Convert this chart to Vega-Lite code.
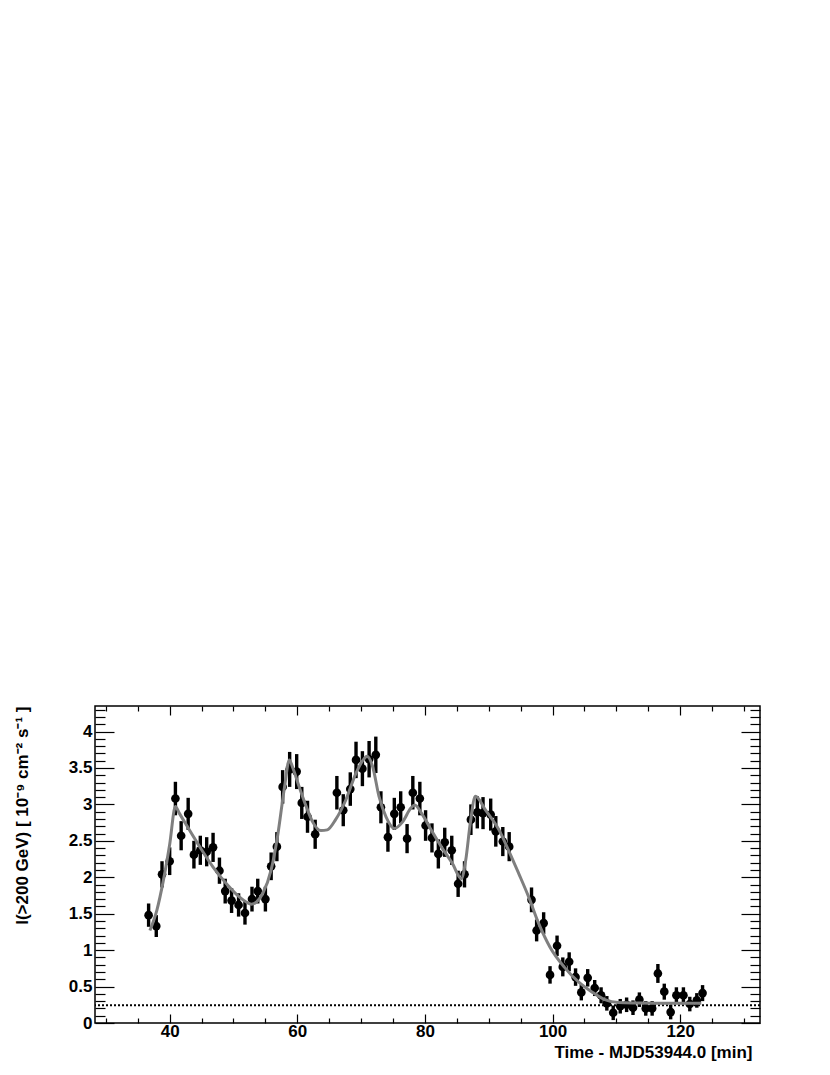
{
  "$schema": "https://vega.github.io/schema/vega-lite/v6.json",
  "width": 665,
  "height": 317,
  "autosize": "none",
  "padding": {"left": 95, "top": 706, "right": 70, "bottom": 52},
  "background": "white",
  "config": {
    "view": {"stroke": "black", "strokeWidth": 1.5},
    "font": "Liberation Sans",
    "axis": {
      "grid": false,
      "domain": false,
      "tickColor": "black",
      "tickWidth": 1.2,
      "labelFont": "Liberation Sans",
      "labelFontWeight": "bold",
      "labelFontSize": 17,
      "labelColor": "black",
      "titleFont": "Liberation Sans",
      "titleFontWeight": "bold",
      "titleFontSize": 17,
      "titleColor": "black"
    }
  },
  "datasets": {
    "points": [
      {"t": 36.7, "v": 1.48, "e": 0.16}, {"t": 37.9, "v": 1.33, "e": 0.15}, {"t": 38.8, "v": 2.04, "e": 0.18},
      {"t": 40.0, "v": 2.22, "e": 0.19}, {"t": 40.9, "v": 3.08, "e": 0.23}, {"t": 41.8, "v": 2.57, "e": 0.2},
      {"t": 42.9, "v": 2.87, "e": 0.22}, {"t": 43.8, "v": 2.31, "e": 0.19}, {"t": 44.8, "v": 2.37, "e": 0.2},
      {"t": 45.8, "v": 2.35, "e": 0.2}, {"t": 46.8, "v": 2.41, "e": 0.2}, {"t": 47.8, "v": 2.09, "e": 0.18},
      {"t": 48.7, "v": 1.81, "e": 0.17}, {"t": 49.7, "v": 1.68, "e": 0.17}, {"t": 50.8, "v": 1.62, "e": 0.16},
      {"t": 51.8, "v": 1.51, "e": 0.16}, {"t": 52.9, "v": 1.70, "e": 0.17}, {"t": 53.8, "v": 1.81, "e": 0.17},
      {"t": 55.0, "v": 1.70, "e": 0.17}, {"t": 55.9, "v": 2.15, "e": 0.19}, {"t": 56.8, "v": 2.42, "e": 0.2},
      {"t": 57.7, "v": 3.24, "e": 0.23}, {"t": 58.8, "v": 3.48, "e": 0.24}, {"t": 59.9, "v": 3.45, "e": 0.24},
      {"t": 60.7, "v": 3.02, "e": 0.22}, {"t": 61.6, "v": 2.83, "e": 0.22}, {"t": 62.8, "v": 2.59, "e": 0.2},
      {"t": 66.2, "v": 3.16, "e": 0.23}, {"t": 67.2, "v": 2.92, "e": 0.22}, {"t": 68.3, "v": 3.21, "e": 0.23},
      {"t": 69.2, "v": 3.61, "e": 0.25}, {"t": 70.2, "v": 3.49, "e": 0.24}, {"t": 71.25, "v": 3.62, "e": 0.25},
      {"t": 72.3, "v": 3.68, "e": 0.25}, {"t": 73.1, "v": 2.96, "e": 0.22}, {"t": 74.2, "v": 2.55, "e": 0.2},
      {"t": 75.2, "v": 2.87, "e": 0.22}, {"t": 76.2, "v": 2.96, "e": 0.22}, {"t": 77.2, "v": 2.53, "e": 0.2},
      {"t": 78.1, "v": 3.16, "e": 0.23}, {"t": 79.2, "v": 3.08, "e": 0.23}, {"t": 80.1, "v": 2.71, "e": 0.21},
      {"t": 81.1, "v": 2.54, "e": 0.2}, {"t": 82.1, "v": 2.32, "e": 0.2}, {"t": 83.1, "v": 2.48, "e": 0.2},
      {"t": 84.2, "v": 2.37, "e": 0.2}, {"t": 85.2, "v": 1.91, "e": 0.18}, {"t": 86.2, "v": 2.04, "e": 0.18},
      {"t": 87.2, "v": 2.79, "e": 0.21}, {"t": 88.2, "v": 2.89, "e": 0.22}, {"t": 89.1, "v": 2.88, "e": 0.22},
      {"t": 90.3, "v": 2.86, "e": 0.22}, {"t": 91.1, "v": 2.63, "e": 0.21}, {"t": 92.2, "v": 2.49, "e": 0.2},
      {"t": 93.2, "v": 2.42, "e": 0.2}, {"t": 96.7, "v": 1.69, "e": 0.17}, {"t": 97.5, "v": 1.27, "e": 0.15},
      {"t": 98.6, "v": 1.37, "e": 0.15}, {"t": 99.6, "v": 0.66, "e": 0.12}, {"t": 100.7, "v": 1.06, "e": 0.14},
      {"t": 101.6, "v": 0.77, "e": 0.13}, {"t": 102.6, "v": 0.84, "e": 0.13}, {"t": 103.6, "v": 0.63, "e": 0.12},
      {"t": 104.5, "v": 0.42, "e": 0.11}, {"t": 105.5, "v": 0.62, "e": 0.12}, {"t": 106.6, "v": 0.48, "e": 0.11},
      {"t": 107.6, "v": 0.38, "e": 0.11}, {"t": 108.5, "v": 0.27, "e": 0.1}, {"t": 109.5, "v": 0.14, "e": 0.1},
      {"t": 110.6, "v": 0.23, "e": 0.1}, {"t": 111.6, "v": 0.25, "e": 0.1}, {"t": 112.6, "v": 0.21, "e": 0.1},
      {"t": 113.6, "v": 0.32, "e": 0.1}, {"t": 114.6, "v": 0.20, "e": 0.1}, {"t": 115.6, "v": 0.20, "e": 0.1},
      {"t": 116.5, "v": 0.68, "e": 0.13}, {"t": 117.5, "v": 0.43, "e": 0.11}, {"t": 118.5, "v": 0.15, "e": 0.1},
      {"t": 119.4, "v": 0.38, "e": 0.11}, {"t": 120.5, "v": 0.38, "e": 0.11}, {"t": 121.5, "v": 0.26, "e": 0.1},
      {"t": 122.6, "v": 0.31, "e": 0.1}, {"t": 123.5, "v": 0.41, "e": 0.11}
    ],
    "fit": [
      {"t": 36.9, "f": 1.27}, {"t": 38.0, "f": 1.55}, {"t": 39.0, "f": 1.95}, {"t": 40.0, "f": 2.45},
      {"t": 40.9, "f": 2.97}, {"t": 41.5, "f": 2.88}, {"t": 42.6, "f": 2.72}, {"t": 44.7, "f": 2.42},
      {"t": 46.8, "f": 2.14}, {"t": 48.9, "f": 1.91}, {"t": 50.9, "f": 1.73}, {"t": 52.0, "f": 1.66},
      {"t": 52.8, "f": 1.63}, {"t": 53.6, "f": 1.66}, {"t": 54.6, "f": 1.78}, {"t": 55.9, "f": 2.10},
      {"t": 56.9, "f": 2.56}, {"t": 58.0, "f": 3.24}, {"t": 58.75, "f": 3.61}, {"t": 59.3, "f": 3.50},
      {"t": 60.3, "f": 3.24}, {"t": 61.4, "f": 2.97}, {"t": 62.4, "f": 2.76}, {"t": 63.7, "f": 2.64},
      {"t": 64.7, "f": 2.65}, {"t": 66.0, "f": 2.79}, {"t": 67.6, "f": 3.06}, {"t": 69.2, "f": 3.43},
      {"t": 70.5, "f": 3.63}, {"t": 70.9, "f": 3.66}, {"t": 71.8, "f": 3.52}, {"t": 72.8, "f": 3.11},
      {"t": 73.9, "f": 2.83}, {"t": 75.2, "f": 2.67}, {"t": 76.5, "f": 2.76}, {"t": 77.8, "f": 2.95},
      {"t": 78.4, "f": 2.99}, {"t": 79.6, "f": 2.86}, {"t": 81.1, "f": 2.63}, {"t": 82.7, "f": 2.40},
      {"t": 84.3, "f": 2.19}, {"t": 85.7, "f": 1.98}, {"t": 86.4, "f": 2.24}, {"t": 87.1, "f": 2.74},
      {"t": 87.9, "f": 3.11}, {"t": 89.5, "f": 2.92}, {"t": 91.6, "f": 2.65}, {"t": 93.1, "f": 2.37},
      {"t": 94.7, "f": 2.05}, {"t": 96.25, "f": 1.73}, {"t": 97.8, "f": 1.37}, {"t": 99.6, "f": 1.04},
      {"t": 101.8, "f": 0.77}, {"t": 104.1, "f": 0.56}, {"t": 106.1, "f": 0.43}, {"t": 108.2, "f": 0.32},
      {"t": 110.3, "f": 0.28}, {"t": 113.4, "f": 0.275}, {"t": 118.6, "f": 0.27}, {"t": 123.3, "f": 0.27}
    ],
    "base": [{"b": 0.243}]
  },
  "resolve": {"axis": {"x": "independent", "y": "independent"}},
  "layer": [
    {
      "data": {"name": "points"},
      "mark": {"type": "errorbar", "ticks": false, "thickness": 3.4, "color": "black"},
      "encoding": {
        "x": {
          "field": "t", "type": "quantitative",
          "scale": {"domain": [28.3, 132.5], "nice": false, "zero": false},
          "axis": {
            "orient": "bottom",
            "title": "Time - MJD53944.0 [min]",
            "titleAnchor": "end",
            "titleAlign": "right",
            "titleX": 657,
            "titlePadding": 1,
            "values": [30, 35, 40, 45, 50, 55, 60, 65, 70, 75, 80, 85, 90, 95, 100, 105, 110, 115, 120, 125, 130],
            "labelExpr": "datum.value % 20 === 0 ? datum.label : ''",
            "tickSize": {"condition": {"test": "datum.value % 20 === 0", "value": -9}, "value": -5},
            "labelPadding": 9,
            "labelOverlap": false
          }
        },
        "y": {
          "field": "v", "type": "quantitative",
          "scale": {"domain": [0, 4.35], "nice": false, "zero": false},
          "axis": {
            "orient": "left",
            "title": "I(>200 GeV) [ 10⁻⁹ cm⁻² s⁻¹ ]",
            "titleAnchor": "end",
            "titlePadding": 37,
            "values": [0, 0.1, 0.2, 0.3, 0.4, 0.5, 0.6, 0.7, 0.8, 0.9, 1, 1.1, 1.2, 1.3, 1.4, 1.5, 1.6, 1.7, 1.8, 1.9, 2, 2.1, 2.2, 2.3, 2.4, 2.5, 2.6, 2.7, 2.8, 2.9, 3, 3.1, 3.2, 3.3, 3.4, 3.5, 3.6, 3.7, 3.8, 3.9, 4, 4.1, 4.2, 4.3],
            "labelExpr": "round(datum.value * 10) % 5 === 0 ? format(datum.value, '~g') : ''",
            "tickSize": {"condition": {"test": "round(datum.value * 10) % 5 === 0", "value": -19}, "value": -10},
            "labelPadding": 22,
            "labelOverlap": false
          }
        },
        "yError": {"field": "e"}
      }
    },
    {
      "data": {"name": "points"},
      "mark": {"type": "point", "filled": true, "size": 75, "color": "black", "opacity": 1},
      "encoding": {
        "x": {
          "field": "t", "type": "quantitative",
          "axis": {
            "orient": "top",
            "title": null,
            "labels": false,
            "values": [30, 35, 40, 45, 50, 55, 60, 65, 70, 75, 80, 85, 90, 95, 100, 105, 110, 115, 120, 125, 130],
            "tickSize": {"condition": {"test": "datum.value % 20 === 0", "value": -9}, "value": -5}
          }
        },
        "y": {
          "field": "v", "type": "quantitative",
          "axis": {
            "orient": "right",
            "title": null,
            "labels": false,
            "values": [0, 0.1, 0.2, 0.3, 0.4, 0.5, 0.6, 0.7, 0.8, 0.9, 1, 1.1, 1.2, 1.3, 1.4, 1.5, 1.6, 1.7, 1.8, 1.9, 2, 2.1, 2.2, 2.3, 2.4, 2.5, 2.6, 2.7, 2.8, 2.9, 3, 3.1, 3.2, 3.3, 3.4, 3.5, 3.6, 3.7, 3.8, 3.9, 4, 4.1, 4.2, 4.3],
            "tickSize": {"condition": {"test": "round(datum.value * 10) % 5 === 0", "value": -19}, "value": -10}
          }
        }
      }
    },
    {
      "data": {"name": "base"},
      "mark": {"type": "rule", "color": "black", "strokeWidth": 2, "strokeDash": [2, 2]},
      "encoding": {
        "y": {"field": "b", "type": "quantitative", "axis": null}
      }
    },
    {
      "data": {"name": "fit"},
      "mark": {"type": "line", "color": "#7f7f7f", "strokeWidth": 3, "interpolate": "monotone"},
      "encoding": {
        "x": {"field": "t", "type": "quantitative", "axis": null},
        "y": {"field": "f", "type": "quantitative", "axis": null}
      }
    }
  ]
}
